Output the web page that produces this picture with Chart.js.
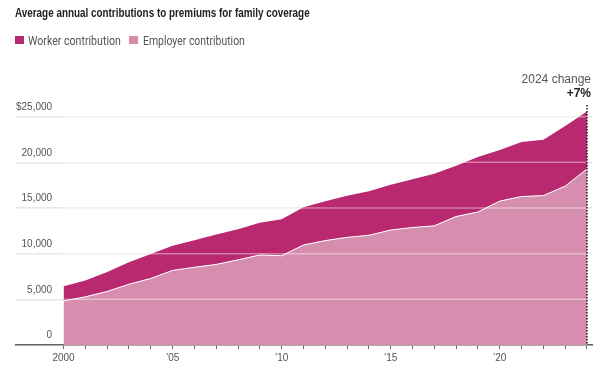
<!DOCTYPE html>
<html>
<head>
<meta charset="utf-8">
<script src="https://cdn.jsdelivr.net/npm/chart.js@4.4.1/dist/chart.umd.min.js"></script>
<style>
  html, body { margin: 0; padding: 0; background: #fff; }
  #wrap { position: relative; width: 606px; height: 379px; }
  #c { position: absolute; left: 0; top: 0; }
  .txt { position: absolute; white-space: nowrap; transform-origin: 0 50%; line-height: 1; }
  .title { left: 15px; top: 5.5px; font: bold 12.5px 'Liberation Sans', Arial, sans-serif; color: #222; }
  .lg { font: 13px Roboto, 'Liberation Sans', sans-serif; color: #555; top: 33px; }
  .sw { position: absolute; width: 9px; height: 8px; top: 35.5px; }
</style>
</head>
<body>
<div id="wrap">
  <canvas id="c" width="606" height="379"></canvas>
  <div class="txt title" data-w="295">Average annual contributions to premiums for family coverage</div>
  <div id="legend"></div>
</div>
<script>
// data (dollars per year)
const years = [2000, 2001, 2002, 2003, 2004, 2005, 2006, 2007, 2008, 2009, 2010, 2011, 2012,
  2013, 2014, 2015, 2016, 2017, 2018, 2019, 2020, 2021, 2022, 2023, 2024];
const workerContribution = [1619, 1787, 2137, 2412, 2661, 2713, 2973, 3281, 3354, 3515, 3997, 4129, 4316,
  4565, 4823, 4955, 5277, 5714, 5547, 6015, 5588, 5969, 6106, 6575, 6296];
const employerContribution = [4819, 5274, 5866, 6656, 7289, 8167, 8508, 8824, 9325, 9860, 9773, 10944, 11429,
  11786, 12011, 12591, 12865, 13049, 14069, 14561, 15754, 16253, 16357, 17393, 19276];
const yTickValues = [0, 5000, 10000, 15000, 20000, 25000];
const xLabelYears = [2000, 2005, 2010, 2015, 2020];
const changeTitle = '2024 change';
const changeValue = '+7%';

const WORKER = '#b9296f';
const EMPLOYER = '#d78eae';
const FONT = "'Liberation Sans', Arial, sans-serif";

Chart.defaults.font.family = FONT;

// html legend, worker first like the original (swatch x, text x, text width)
const legendEl = document.getElementById('legend');
[['Worker contribution', WORKER, 15, 28, 93], ['Employer contribution', EMPLOYER, 129, 143, 102]].forEach(([txt, col, sx, tx, w]) => {
  const sw = document.createElement('div');
  sw.className = 'sw';
  sw.style.left = sx + 'px';
  sw.style.background = col;
  legendEl.appendChild(sw);
  const t = document.createElement('div');
  t.className = 'txt lg';
  t.style.left = tx + 'px';
  t.dataset.w = w;
  t.textContent = txt;
  legendEl.appendChild(t);
});

// narrow the html text to the original widths
document.querySelectorAll('.txt[data-w]').forEach(el => {
  el.style.transform = `scaleX(${el.dataset.w / el.offsetWidth})`;
});

const lastYear = years[years.length - 1];

// grid lines that show through the areas + the 2024 marker
const overlayPlugin = {
  id: 'overlay',
  afterDatasetsDraw(chart) {
    const { ctx, chartArea, scales: { x, y } } = chart;
    const x0 = x.getPixelForValue(years[0]);
    const x1 = x.getPixelForValue(lastYear);
    ctx.save();
    ctx.strokeStyle = 'rgba(255,255,255,0.4)';
    ctx.lineWidth = 1.5;
    yTickValues.filter(v => v > 0).forEach(v => {
      const py = y.getPixelForValue(v);
      ctx.beginPath();
      ctx.moveTo(x0, py);
      ctx.lineTo(x1, py);
      ctx.stroke();
    });
    // dotted marker
    ctx.strokeStyle = '#222';
    ctx.lineWidth = 1.5;
    ctx.setLineDash([1.5, 1.5]);
    ctx.beginPath();
    ctx.moveTo(x1, 105);
    ctx.lineTo(x1, chartArea.bottom);
    ctx.stroke();
    ctx.setLineDash([]);
    // label
    ctx.textAlign = 'right';
    ctx.textBaseline = 'middle';
    ctx.fillStyle = '#555';
    ctx.font = `12px ${FONT}`;
    ctx.fillText(changeTitle, chartArea.right - 1, 79.5);
    ctx.fillStyle = '#222';
    ctx.font = `bold 12px ${FONT}`;
    ctx.fillText(changeValue, chartArea.right - 1, 94);
    ctx.restore();
  }
};

new Chart(document.getElementById('c'), {
  type: 'line',
  data: {
    datasets: [
      {
        label: 'Employer contribution',
        data: years.map((yr, i) => ({ x: yr, y: employerContribution[i] })),
        backgroundColor: EMPLOYER,
        borderColor: '#fff',
        borderWidth: 1,
        fill: 'origin',
        pointRadius: 0,
        tension: 0
      },
      {
        label: 'Worker contribution',
        data: years.map((yr, i) => ({ x: yr, y: workerContribution[i] })),
        backgroundColor: WORKER,
        borderColor: WORKER,
        borderWidth: 0,
        fill: '-1',
        pointRadius: 0,
        tension: 0
      }
    ]
  },
  options: {
    responsive: false,
    animation: false,
    layout: { padding: { left: 16, right: 14, top: 71, bottom: 12 } },
    plugins: { legend: { display: false }, title: { display: false }, tooltip: { enabled: false } },
    scales: {
      x: {
        type: 'linear',
        min: 1997.82,
        max: 2024.23,
        afterBuildTicks: s => { s.ticks = years.map(v => ({ value: v })); },
        ticks: {
          autoSkip: false,
          maxRotation: 0,
          padding: 3,
          color: '#555',
          font: { size: 10 },
          callback: v => v === 2000 ? '2000' : (xLabelYears.includes(v) ? '\u2019' + String(v).slice(2) : '')
        },
        grid: { drawOnChartArea: false, drawTicks: true, tickLength: 4, tickColor: '#666', tickWidth: 1 },
        border: { color: '#666', width: 1.5 }
      },
      y: {
        stacked: true,
        min: 0,
        max: 30000,
        afterBuildTicks: s => { s.ticks = yTickValues.map(v => ({ value: v })); },
        ticks: {
          mirror: true,
          crossAlign: 'far',
          padding: 0,
          labelOffset: -9.5,
          color: '#555',
          font: { size: 10 },
          callback: v => v === 25000 ? '$25,000' : v.toLocaleString('en-US')
        },
        grid: { color: '#e8e8e8', lineWidth: 1.5, drawTicks: false },
        border: { display: false }
      }
    }
  },
  plugins: [overlayPlugin]
});
</script>
</body>
</html>
